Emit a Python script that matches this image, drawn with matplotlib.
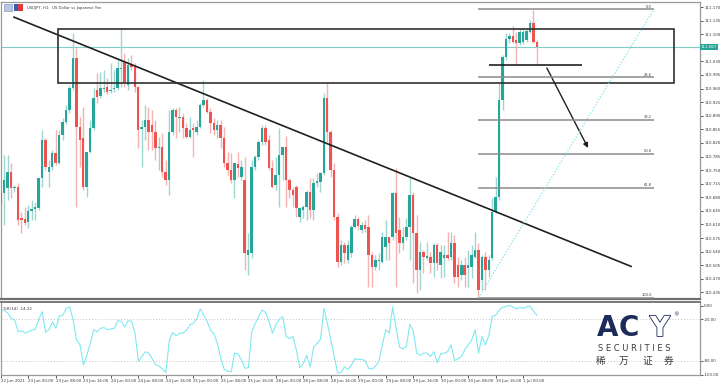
import matplotlib.pyplot as plt
from matplotlib.patches import Rectangle
from matplotlib.transforms import blended_transform_factory
from matplotlib import patheffects

# USDJPY H1 candles
opens = [
    110.691, 110.691, 110.704, 110.745, 110.704, 110.707, 110.627, 110.624, 110.617, 110.645,
    110.650, 110.653, 110.730, 110.828, 110.745, 110.758, 110.794, 110.768, 110.841, 110.874,
    110.905, 110.962, 111.039, 110.861, 110.833, 110.707, 110.797, 110.859, 110.956, 110.941,
    110.959, 110.964, 110.954, 110.959, 110.962, 111.010, 111.028, 110.969, 111.021, 111.016,
    110.964, 110.856, 110.861, 110.879, 110.866, 110.848, 110.807, 110.810, 110.745, 110.725,
    110.848, 110.905, 110.884, 110.887, 110.859, 110.835, 110.859, 110.848, 110.861, 110.918,
    110.931, 110.900, 110.871, 110.853, 110.866, 110.833, 110.768, 110.750, 110.725, 110.766,
    110.732, 110.725, 110.532, 110.537, 110.758, 110.784, 110.822, 110.859, 110.828, 110.756,
    110.712, 110.738, 110.789, 110.810, 110.725, 110.699, 110.707, 110.629, 110.648, 110.655,
    110.694, 110.648, 110.717, 110.720, 110.743, 110.936, 110.848, 110.750, 110.629, 110.514,
    110.557, 110.519, 110.537, 110.604, 110.624, 110.596, 110.609, 110.604, 110.532, 110.501,
    110.516, 110.514, 110.552, 110.578, 110.578, 110.691, 110.596, 110.563, 110.578, 110.604,
    110.686, 110.588, 110.493, 110.539, 110.524, 110.527, 110.511, 110.557, 110.506, 110.524,
    110.532, 110.527, 110.563, 110.506, 110.480, 110.506, 110.498, 110.501, 110.527, 110.545,
    110.467, 110.527, 110.493, 110.524, 110.642, 110.681, 110.931, 111.041, 111.088, 111.095,
    111.085, 111.077, 111.080, 111.085, 111.106, 111.129, 111.080,
]
highs = [
    110.699, 110.789, 110.789, 110.768, 110.712, 110.717, 110.642, 110.655, 110.660, 110.673,
    110.668, 110.730, 110.853, 110.833, 110.776, 110.802, 110.853, 110.853, 110.884, 110.918,
    110.969, 111.103, 111.064, 110.887, 110.913, 110.797, 110.879, 110.962, 111.000, 111.003,
    111.008, 110.987, 111.026, 111.008, 111.034, 111.116, 111.052, 111.039, 111.046, 111.026,
    110.967, 110.879, 110.918, 110.913, 110.905, 110.879, 110.835, 110.846, 110.776, 110.905,
    110.910, 110.910, 110.913, 110.897, 110.871, 110.887, 110.871, 110.879, 110.923, 110.982,
    110.936, 110.910, 110.884, 110.879, 110.879, 110.861, 110.797, 110.794, 110.768, 110.797,
    110.776, 110.784, 110.588, 110.776, 110.789, 110.828, 110.866, 110.866, 110.841, 110.776,
    110.784, 110.859, 110.810, 110.838, 110.730, 110.707, 110.712, 110.655, 110.660, 110.699,
    110.730, 110.730, 110.743, 110.745, 110.949, 110.977, 110.853, 110.768, 110.640, 110.570,
    110.565, 110.570, 110.609, 110.635, 110.629, 110.617, 110.622, 110.635, 110.539, 110.532,
    110.537, 110.591, 110.622, 110.578, 110.694, 110.756, 110.629, 110.604, 110.627, 110.732,
    110.694, 110.635, 110.565, 110.545, 110.565, 110.539, 110.563, 110.563, 110.557, 110.557,
    110.591, 110.591, 110.583, 110.527, 110.519, 110.527, 110.545, 110.557, 110.591, 110.563,
    110.532, 110.539, 110.532, 110.678, 110.732, 110.974, 111.046, 111.103, 111.103, 111.121,
    111.106, 111.113, 111.111, 111.113, 111.137, 111.162, 111.085,
]
lows = [
    110.658, 110.609, 110.673, 110.678, 110.694, 110.609, 110.588, 110.609, 110.601, 110.622,
    110.622, 110.648, 110.707, 110.750, 110.707, 110.750, 110.763, 110.766, 110.828, 110.869,
    110.897, 110.956, 110.655, 110.758, 110.699, 110.681, 110.794, 110.853, 110.923, 110.936,
    110.951, 110.946, 110.949, 110.951, 110.956, 110.964, 110.964, 110.956, 111.008, 110.951,
    110.807, 110.758, 110.828, 110.802, 110.802, 110.776, 110.750, 110.732, 110.712, 110.686,
    110.841, 110.833, 110.848, 110.833, 110.833, 110.833, 110.784, 110.841, 110.859, 110.913,
    110.897, 110.846, 110.841, 110.833, 110.807, 110.758, 110.738, 110.717, 110.678, 110.732,
    110.725, 110.493, 110.480, 110.524, 110.750, 110.776, 110.815, 110.815, 110.750, 110.704,
    110.699, 110.655, 110.725, 110.655, 110.678, 110.655, 110.629, 110.617, 110.627, 110.622,
    110.627, 110.622, 110.707, 110.694, 110.738, 110.822, 110.732, 110.622, 110.501, 110.506,
    110.511, 110.511, 110.527, 110.601, 110.596, 110.588, 110.591, 110.449, 110.449, 110.493,
    110.493, 110.511, 110.519, 110.519, 110.570, 110.449, 110.537, 110.545, 110.570, 110.519,
    110.460, 110.434, 110.442, 110.485, 110.519, 110.485, 110.475, 110.493, 110.472, 110.475,
    110.519, 110.519, 110.460, 110.449, 110.467, 110.449, 110.449, 110.472, 110.524, 110.421,
    110.442, 110.442, 110.475, 110.519, 110.640, 110.673, 110.905, 111.034, 111.077, 111.077,
    111.021, 111.072, 111.075, 111.080, 111.103, 111.077, 111.021,
]
closes = [
    110.666, 110.725, 110.745, 110.704, 110.707, 110.622, 110.622, 110.614, 110.645, 110.650,
    110.655, 110.730, 110.828, 110.758, 110.758, 110.794, 110.768, 110.841, 110.874, 110.905,
    110.962, 111.039, 110.861, 110.828, 110.707, 110.797, 110.859, 110.936, 110.938, 110.962,
    110.962, 110.951, 110.956, 110.962, 111.013, 111.013, 110.974, 111.021, 111.016, 110.964,
    110.853, 110.861, 110.879, 110.848, 110.848, 110.807, 110.810, 110.745, 110.725, 110.848,
    110.905, 110.887, 110.887, 110.859, 110.835, 110.853, 110.853, 110.861, 110.918, 110.931,
    110.900, 110.871, 110.853, 110.866, 110.833, 110.768, 110.750, 110.725, 110.768, 110.756,
    110.758, 110.537, 110.545, 110.758, 110.784, 110.822, 110.859, 110.822, 110.756, 110.707,
    110.738, 110.789, 110.810, 110.725, 110.699, 110.686, 110.653, 110.653, 110.655, 110.694,
    110.648, 110.717, 110.722, 110.743, 110.936, 110.848, 110.750, 110.629, 110.514, 110.557,
    110.537, 110.557, 110.604, 110.624, 110.606, 110.609, 110.599, 110.532, 110.501, 110.519,
    110.519, 110.578, 110.578, 110.563, 110.691, 110.588, 110.563, 110.578, 110.604, 110.686,
    110.588, 110.493, 110.539, 110.527, 110.529, 110.511, 110.557, 110.511, 110.539, 110.532,
    110.524, 110.563, 110.475, 110.475, 110.506, 110.480, 110.506, 110.532, 110.545, 110.442,
    110.527, 110.493, 110.519, 110.642, 110.681, 110.931, 111.041, 111.088, 111.095, 111.080,
    111.077, 111.106, 111.106, 111.108, 111.129, 111.080, 111.067,
]

# Williams %R(14), one value per bar
wpr = [
    -6, -7.5, -11, -18.6, -21, -38, -36.5, -40, -38, -35.5,
    -34.5, -20, -9, -39, -34.5, -24, -33, -15, -14, -4,
    -2, -21, -50, -57, -86, -72, -55, -35, -38, -33,
    -32, -35, -34, -33, -22, -23, -31, -22, -23, -40,
    -81, -74, -67, -69, -77, -86, -88, -92, -97, -50,
    -39, -44, -40, -40, -36, -28, -26, -19, -5, -14,
    -23, -36, -41, -55, -77, -93, -95, -96, -69, -70,
    -79, -91, -90, -38, -26, -16, -6.5, -10, -23, -40,
    -28, -20, -16, -45, -48, -45, -65, -90, -84, -72,
    -89, -60, -55, -49, -4, -26, -50, -74, -98, -97,
    -89, -93, -86, -77, -78, -78, -80, -91, -92, -88,
    -80, -57, -35, -40, -2, -33, -60, -63, -59, -27,
    -37, -69, -72, -69, -69, -74, -67, -83, -70, -69,
    -67, -57, -80, -77, -74, -64, -57, -50, -35, -69,
    -45, -57, -43, -16, -14, -6.5, -2.7, -1, 0, -2,
    -4.6, -3, -4, -2, -1, -8, -14.22,
]

price_ticks = [111.170, 111.135, 111.100, 111.030, 110.995, 110.960, 110.925, 110.890,
               110.855, 110.820, 110.785, 110.750, 110.715, 110.680, 110.645, 110.610,
               110.575, 110.540, 110.505, 110.470, 110.435]
last_price = 111.067

time_ticks = [0, 8, 16, 24, 32, 40, 48, 56, 64, 72, 80, 88, 96, 104, 112, 120, 128, 136, 144, 152]
time_labels = ["22 Jun 2021", "23 Jun 00:00", "23 Jun 08:00", "23 Jun 16:00", "24 Jun 00:00",
               "24 Jun 08:00", "24 Jun 16:00", "25 Jun 00:00", "25 Jun 08:00", "25 Jun 16:00",
               "28 Jun 00:00", "28 Jun 08:00", "28 Jun 16:00", "29 Jun 00:00", "29 Jun 08:00",
               "29 Jun 16:00", "30 Jun 00:00", "30 Jun 08:00", "30 Jun 16:00", "1 Jul 00:00"]

# drawing objects on the chart (bar index, price)
trend_x = [3.87, 183.4]
trend_y = [111.144, 110.502]
box_x = [16.7, 195.9]
box_y = [110.974, 111.113]
support_x = [142.1, 169.1]
support_y = 111.021
arrow_from = (158.9, 111.013)
arrow_to = (170.9, 110.807)
fib_x = [139, 190]
fib_low = 110.421
fib_high = 111.164
fib_levels = [0.0, 23.6, 38.2, 50.0, 61.8, 100.0]

up_col = "#26a69a"
dn_col = "#ef5350"
up_wick = "#9fd6d0"
dn_wick = "#f5b2b0"
navy = "#1c2b5a"
txt_col = "#3a3a3a"
small = 2.9

W, H = 720.0, 386.0
fig = plt.figure(figsize=(7.2, 3.86), dpi=100)
ax = fig.add_axes([1 / W, 1 - 299 / H, 699 / W, 297 / H])
ind = fig.add_axes([1 / W, 1 - 374.5 / H, 699 / W, 72.5 / H])

n = len(opens)
xs = list(range(n))
is_up = [c >= o for o, c in zip(opens, closes)]
wick_cols = [up_wick if u else dn_wick for u in is_up]
body_cols = [up_col if u else dn_col for u in is_up]
bottoms = [min(o, c) for o, c in zip(opens, closes)]
heights = [max(abs(c - o), 0.0018) for o, c in zip(opens, closes)]

ax.vlines(xs, lows, highs, colors=wick_cols, lw=1.0, zorder=2)
ax.bar(xs, heights, bottom=bottoms, width=0.72, color=body_cols, lw=0, zorder=3)

# current price line
ax.axhline(last_price, color="#7fcfc6", lw=0.8, zorder=1)

# trend line, box, support and arrow
ax.plot(trend_x, trend_y, color="#202020", lw=1.2, zorder=4)
ax.add_patch(Rectangle((box_x[0], box_y[0]), box_x[1] - box_x[0], box_y[1] - box_y[0],
                       fill=False, ec="#303030", lw=1.2, zorder=4))
ax.hlines(support_y, support_x[0], support_x[1], color="#202020", lw=1.2, zorder=4)
ax.annotate("", xy=arrow_to, xytext=arrow_from,
            arrowprops=dict(arrowstyle="-|>", color="#202020", lw=1.0,
                            mutation_scale=7, shrinkA=0, shrinkB=0), zorder=4)

# fibonacci retracement
for lvl in fib_levels:
    y = fib_high - (fib_high - fib_low) * lvl / 100.0
    ax.hlines(y, fib_x[0], fib_x[1], color="#8c8c8c", lw=1.1, zorder=4)
    ax.text(fib_x[1] - 0.6, y + 0.002, "%.1f" % lvl, fontsize=2.6, color=txt_col,
            ha="right", va="bottom", zorder=5)
ax.plot(fib_x, [fib_low, fib_high], color="#7fe3e8", lw=0.9, ls=(0, (1, 1.5)), zorder=4)

ax.set_xlim(0.087, 203.46)
ax.set_ylim(110.418, 111.183)
ax.yaxis.tick_right()
ax.set_yticks(price_ticks)
ax.set_yticklabels(["%.3f" % p for p in price_ticks])
ax.tick_params(axis="y", labelsize=small, length=2, pad=1, colors=txt_col, width=0.6)
ax.tick_params(axis="x", bottom=False, labelbottom=False)
for s in ax.spines.values():
    s.set_color("#9a9a9a")
    s.set_linewidth(0.9)
ax.spines["bottom"].set_color("#6e6e6e")
ax.spines["bottom"].set_linewidth(1.6)

tr = blended_transform_factory(ax.transAxes, ax.transData)
ax.text(1.0015, last_price, "%.3f" % last_price, transform=tr, fontsize=small, color="white",
        va="center", ha="left", zorder=6,
        bbox=dict(boxstyle="square,pad=0.2", fc=up_col, ec="none"))

# Williams %R panel
ind.plot(xs, wpr, color="#7fe9f2", lw=0.8)
ind.axhline(-20, color="#c4c4c4", lw=0.7, ls=(0, (1, 2)))
ind.axhline(-80, color="#c4c4c4", lw=0.7, ls=(0, (1, 2)))
ind.set_xlim(0.087, 203.46)
ind.set_ylim(-100, 5.1)
ind.yaxis.tick_right()
ind.set_yticks([0, -20, -80, -100])
ind.set_yticklabels(["0.00", "-20.00", "-80.00", "-100.00"])
ind.tick_params(axis="y", labelsize=small, length=2, pad=1, colors=txt_col, width=0.6)
ind.set_xticks(time_ticks)
ind.set_xticklabels(time_labels, ha="left")
ind.tick_params(axis="x", labelsize=small, length=2, pad=1.5, colors=txt_col, width=0.6)
for s in ind.spines.values():
    s.set_color("#9a9a9a")
    s.set_linewidth(0.9)
ind.spines["top"].set_color("#6e6e6e")
ind.spines["top"].set_linewidth(1.3)
ind.text(2 / 699, 0.9, "%%R(14) %.2f" % wpr[-1], transform=ind.transAxes,
         fontsize=small, color=txt_col, va="center", ha="left")

# header
fig.add_artist(Rectangle((4 / W, 1 - 11 / H), 8 / W, 7 / H, transform=fig.transFigure,
                         fc="#b9c7e6", ec="#7d8fb8", lw=0.4))
fig.add_artist(Rectangle((14 / W, 1 - 11 / H), 4 / W, 7 / H, transform=fig.transFigure,
                         fc="#3a5bb5", ec="none"))
fig.add_artist(Rectangle((18 / W, 1 - 11 / H), 5 / W, 7 / H, transform=fig.transFigure,
                         fc="#e03a3a", ec="none"))
fig.text(27 / W, 1 - 7.5 / H, "USDJPY, H1:  US Dollar vs Japanese Yen", fontsize=2.7,
         color=txt_col, va="center", ha="left")

# ACY logo
fig.text(607.5 / W, 1 - 328 / H, "A", fontsize=20, fontweight="bold", color=navy,
         ha="center", va="center")
fig.text(629 / W, 1 - 328 / H, "C", fontsize=20, fontweight="bold", color=navy,
         ha="center", va="center")
fig.text(660 / W, 1 - 328 / H, "Y", fontsize=20, fontweight="bold", color="white",
         ha="center", va="center",
         path_effects=[patheffects.withStroke(linewidth=1.2, foreground=navy)])
fig.text(676 / W, 1 - 315 / H, "®", fontsize=4, color=navy, ha="center", va="center")
fig.text(634.5 / W, 1 - 348.5 / H, "S E C U R I T I E S", fontsize=6, color="#3c3c3c",
         ha="center", va="center")
for cx, ch in zip([601, 624, 647, 669], ["稀", "万", "证", "券"]):
    fig.text(cx / W, 1 - 361 / H, ch, fontsize=7, color="#3c3c3c", ha="center",
             va="center", family=["Noto Sans CJK SC", "DejaVu Sans"])

fig.savefig("out.png", dpi=100)
